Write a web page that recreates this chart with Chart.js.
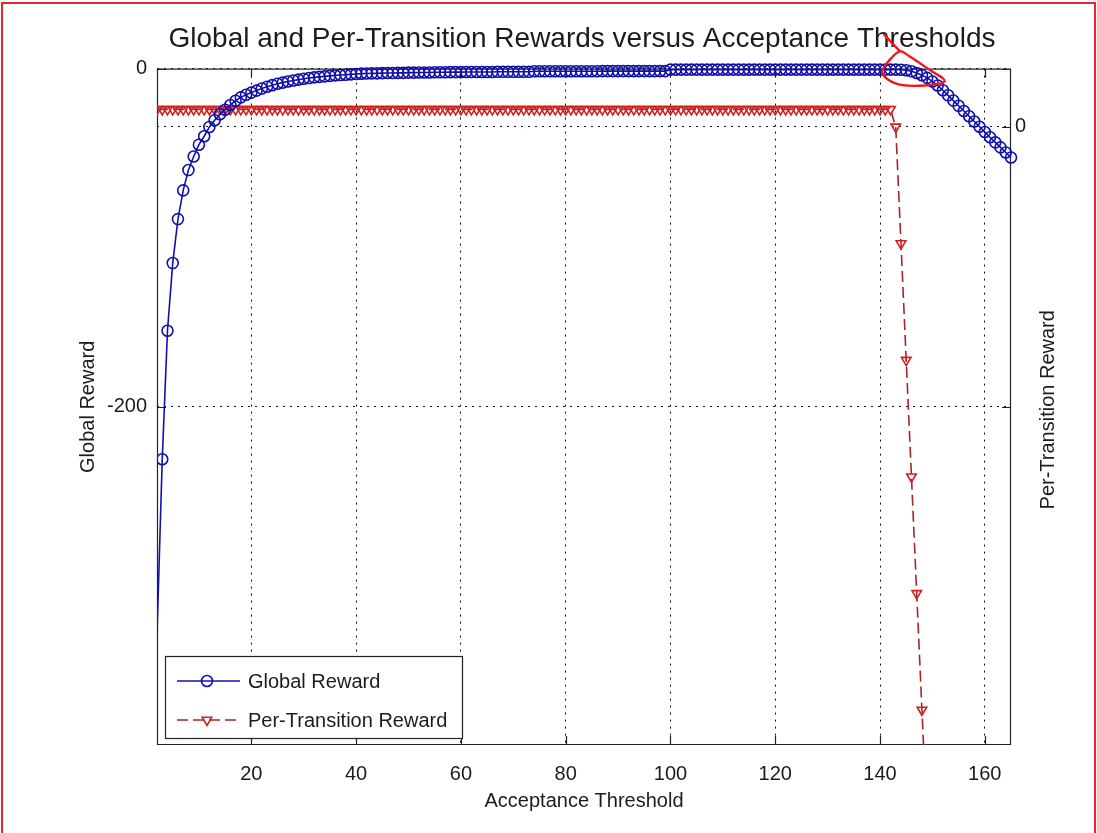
<!DOCTYPE html>
<html>
<head>
<meta charset="utf-8">
<title>Global and Per-Transition Rewards versus Acceptance Thresholds</title>
<script src="https://cdn.jsdelivr.net/npm/chart.js@4.4.0/dist/chart.umd.min.js"></script>
<style>
  html, body { margin: 0; padding: 0; background: #ffffff; }
  #wrap { position: relative; width: 1097px; height: 833px; overflow: hidden; }
  #frame { position: absolute; left: 1px; top: 2px; right: 1px; bottom: -6px; border: 2px solid #e8262b; pointer-events: none; }
</style>
</head>
<body>
<div id="wrap">
  <canvas id="chart" width="1097" height="833"></canvas>
  <div id="frame"></div>
</div>
<script>
// Acceptance thresholds (x axis)
const thresholds = [
  2, 3, 4, 5, 6, 7, 8, 9, 10, 11, 12, 13, 14, 15, 16, 17, 18, 19, 20, 21,
  22, 23, 24, 25, 26, 27, 28, 29, 30, 31, 32, 33, 34, 35, 36, 37, 38, 39, 40, 41,
  42, 43, 44, 45, 46, 47, 48, 49, 50, 51, 52, 53, 54, 55, 56, 57, 58, 59, 60, 61,
  62, 63, 64, 65, 66, 67, 68, 69, 70, 71, 72, 73, 74, 75, 76, 77, 78, 79, 80, 81,
  82, 83, 84, 85, 86, 87, 88, 89, 90, 91, 92, 93, 94, 95, 96, 97, 98, 99, 100, 101,
  102, 103, 104, 105, 106, 107, 108, 109, 110, 111, 112, 113, 114, 115, 116, 117, 118, 119, 120, 121,
  122, 123, 124, 125, 126, 127, 128, 129, 130, 131, 132, 133, 134, 135, 136, 137, 138, 139, 140, 141,
  142, 143, 144, 145, 146, 147, 148, 149, 150, 151, 152, 153, 154, 155, 156, 157, 158, 159, 160, 161,
  162, 163, 164, 165
];

// Global reward per threshold (left axis)
const globalReward = [
  -335, -231, -155, -115, -89, -72, -60, -52, -45, -40, -34.5, -30.5, -27, -24.3, -21.5, -19, -17, -15.5, -14.2, -13,
  -11.8, -10.7, -9.8, -9, -8.3, -7.6, -7, -6.5, -6.0, -5.6, -5.2, -4.9, -4.6, -4.3, -4.0, -3.8, -3.6, -3.4, -3.2, -3.0,
  -2.9, -2.8, -2.8, -2.7, -2.6, -2.6, -2.5, -2.5, -2.4, -2.4, -2.3, -2.3, -2.3, -2.2, -2.2, -2.2, -2.1, -2.1, -2.1, -2.0,
  -2.0, -2.0, -2.0, -2.0, -2.0, -1.9, -1.9, -1.9, -1.9, -1.9, -1.9, -1.9, -1.6, -1.6, -1.6, -1.6, -1.6, -1.6, -1.6, -1.6,
  -1.6, -1.6, -1.6, -1.6, -1.6, -1.5, -1.5, -1.5, -1.5, -1.5, -1.5, -1.5, -1.5, -1.5, -1.5, -1.5, -1.5, -1.5, -0.6, -0.6,
  -0.6, -0.6, -0.6, -0.6, -0.6, -0.6, -0.6, -0.6, -0.6, -0.6, -0.6, -0.6, -0.6, -0.6, -0.6, -0.6, -0.6, -0.6, -0.6, -0.6,
  -0.6, -0.6, -0.6, -0.6, -0.6, -0.6, -0.6, -0.6, -0.6, -0.6, -0.6, -0.6, -0.6, -0.6, -0.6, -0.6, -0.6, -0.6, -0.6, -0.6,
  -0.6, -0.6, -0.7, -1.0, -1.6, -2.6, -3.9, -5.5, -7.6, -10, -12.8, -15.8, -18.9, -22, -25.1, -28.2, -31.3, -34.4, -37.5, -40.6,
  -43.6, -46.6, -49.6, -52.6
];

// Per-transition reward per threshold (right axis)
const perTransitionReward = [
  15, 15, 15, 15, 15, 15, 15, 15, 15, 15, 15, 15, 15, 15, 15, 15, 15, 15, 15, 15,
  15, 15, 15, 15, 15, 15, 15, 15, 15, 15, 15, 15, 15, 15, 15, 15, 15, 15, 15, 15,
  15, 15, 15, 15, 15, 15, 15, 15, 15, 15, 15, 15, 15, 15, 15, 15, 15, 15, 15, 15,
  15, 15, 15, 15, 15, 15, 15, 15, 15, 15, 15, 15, 15, 15, 15, 15, 15, 15, 15, 15,
  15, 15, 15, 15, 15, 15, 15, 15, 15, 15, 15, 15, 15, 15, 15, 15, 15, 15, 15, 15,
  15, 15, 15, 15, 15, 15, 15, 15, 15, 15, 15, 15, 15, 15, 15, 15, 15, 15, 15, 15,
  15, 15, 15, 15, 15, 15, 15, 15, 15, 15, 15, 15, 15, 15, 15, 15, 15, 15, 15, 15,
  15, 0, -100, -200, -300, -400, -500, -600, -700
];

// Tick labels
const xTickValues = [20, 40, 60, 80, 100, 120, 140, 160];
const leftTickValues = [-200, 0];
const rightTickValues = [0];

// Freehand highlight around the knee of the global reward curve
// (threshold, global reward): a short stroke, then a closed loop
const highlightTail = [[140.8, 20.1], [143.8, 10.2]];
const highlightLoop = [
  [143.8, 10.2], [141.9, 5.3], [140.4, -2.5], [143.1, -8.9], [147.5, -10.1],
  [152.3, -7.5], [149.4, -0.6], [145.6, 7.3], [143.8, 10.2]
];

const FONT = "'Liberation Sans', Arial, Helvetica, sans-serif";
const INK = '#1c1c1c';
const BLUE = 'rgb(16,16,172)';
const RED_LINE = 'rgb(170,36,36)';
const RED_MARK = 'rgb(212,30,30)';
const rightAxisTitle = 'Per-Transition Reward';

Chart.defaults.font.family = FONT;
Chart.defaults.font.size = 20;
Chart.defaults.color = INK;

const tickSetter = (values) => (scale) => { scale.ticks = values.map(v => ({ value: v })); };

// Axes box, inward tick marks and the right-hand axis title
const axesFrame = {
  id: 'axesFrame',
  beforeDatasetsDraw(chart) {
    const { ctx, chartArea: a, scales } = chart;
    const len = 9;
    ctx.save();
    ctx.strokeStyle = '#222';
    ctx.lineWidth = 1.2;
    ctx.beginPath();
    ctx.rect(a.left + 0.5, a.top + 0.5, a.right - a.left - 1, a.bottom - a.top - 1);
    for (const t of scales.x.ticks) {
      const px = Math.round(scales.x.getPixelForValue(t.value)) + 0.5;
      ctx.moveTo(px, a.bottom); ctx.lineTo(px, a.bottom - len);
      ctx.moveTo(px, a.top); ctx.lineTo(px, a.top + len);
    }
    for (const t of scales.yL.ticks) {
      const py = Math.round(scales.yL.getPixelForValue(t.value)) + 0.5;
      ctx.moveTo(a.left, py); ctx.lineTo(a.left + len, py);
      ctx.moveTo(a.right, py); ctx.lineTo(a.right - len, py);
    }
    for (const t of scales.yR.ticks) {
      const py = Math.round(scales.yR.getPixelForValue(t.value)) + 0.5;
      ctx.moveTo(a.right, py); ctx.lineTo(a.right - len, py);
    }
    ctx.stroke();
    ctx.restore();
  },
  afterDraw(chart) {
    const { ctx, chartArea: a, scales } = chart;
    ctx.save();
    ctx.fillStyle = INK;
    ctx.font = '20px ' + FONT;
    ctx.textAlign = 'center';
    ctx.textBaseline = 'middle';
    ctx.translate(scales.yR.right - 46, (a.top + a.bottom) / 2 + 3);
    ctx.rotate(-Math.PI / 2);
    ctx.fillText(rightAxisTitle, 0, 0);
    ctx.restore();
  }
};

// Boxed legend in the lower-left corner of the plot
const boxLegend = {
  id: 'boxLegend',
  afterDatasetsDraw(chart) {
    const { ctx, chartArea: a } = chart;
    const left = a.left + 8, top = a.bottom - 89, w = 297, h = 82;
    ctx.save();
    ctx.fillStyle = '#ffffff';
    ctx.fillRect(left, top, w, h);
    ctx.strokeStyle = '#222';
    ctx.lineWidth = 1.2;
    ctx.strokeRect(left + 0.5, top + 0.5, w, h);
    const rows = [top + 25, top + 64];
    chart.data.datasets.forEach((ds, i) => {
      const y = rows[i];
      ctx.save();
      ctx.strokeStyle = ds.borderColor;
      ctx.lineWidth = ds.borderWidth;
      ctx.setLineDash(ds.borderDash || []);
      ctx.beginPath();
      ctx.moveTo(left + 12, y); ctx.lineTo(left + 75, y);
      ctx.stroke();
      ctx.setLineDash([]);
      ctx.strokeStyle = ds.pointBorderColor;
      ctx.fillStyle = 'rgba(0,0,0,0)';
      ctx.lineWidth = ds.pointBorderWidth;
      Chart.helpers.drawPoint(ctx, {
        pointStyle: ds.pointStyle, rotation: ds.pointRotation || 0,
        radius: 5.5, borderWidth: ds.pointBorderWidth
      }, left + 42, y);
      ctx.restore();
      ctx.fillStyle = INK;
      ctx.font = '20px ' + FONT;
      ctx.textAlign = 'left';
      ctx.textBaseline = 'middle';
      ctx.fillText(ds.label, left + 83, y + 1);
    });
    ctx.restore();
  }
};

// Smooth closed curve through points (Catmull-Rom converted to Bezier)
function strokeThrough(ctx, pts) {
  ctx.moveTo(pts[0][0], pts[0][1]);
  for (let i = 0; i < pts.length - 1; i++) {
    const p0 = pts[i === 0 ? pts.length - 2 : i - 1];
    const p1 = pts[i], p2 = pts[i + 1];
    const p3 = pts[i + 2 < pts.length ? i + 2 : 1];
    const c1 = [p1[0] + (p2[0] - p0[0]) / 6, p1[1] + (p2[1] - p0[1]) / 6];
    const c2 = [p2[0] - (p3[0] - p1[0]) / 6, p2[1] - (p3[1] - p1[1]) / 6];
    ctx.bezierCurveTo(c1[0], c1[1], c2[0], c2[1], p2[0], p2[1]);
  }
}

const highlight = {
  id: 'highlight',
  afterDraw(chart) {
    const { ctx, scales } = chart;
    const toPx = ([xv, yv]) => [scales.x.getPixelForValue(xv), scales.yL.getPixelForValue(yv)];
    const tail = highlightTail.map(toPx);
    const loop = highlightLoop.map(toPx);
    ctx.save();
    ctx.strokeStyle = '#ee1a1a';
    ctx.lineWidth = 2.4;
    ctx.lineCap = 'round';
    ctx.lineJoin = 'round';
    ctx.beginPath();
    ctx.moveTo(tail[0][0], tail[0][1]);
    ctx.lineTo(tail[1][0], tail[1][1]);
    strokeThrough(ctx, loop);
    ctx.stroke();
    ctx.restore();
  }
};

const gridStyle = { color: '#111', lineWidth: 1, drawTicks: false };
const gridBorder = { display: false, dash: [2, 5] };

new Chart(document.getElementById('chart'), {
  type: 'line',
  data: {
    labels: thresholds,
    datasets: [
      {
        label: 'Global Reward',
        data: globalReward,
        yAxisID: 'yL',
        borderColor: BLUE,
        borderWidth: 1.6,
        pointStyle: 'circle',
        pointRadius: (c) => (c.dataIndex === 0 ? 0 : 5.5),
        pointBorderWidth: 1.6,
        pointBorderColor: BLUE,
        pointBackgroundColor: 'rgba(0,0,0,0)',
        tension: 0,
        clip: { left: 0, top: 9, right: 9, bottom: 0 }
      },
      {
        label: 'Per-Transition Reward',
        data: perTransitionReward,
        yAxisID: 'yR',
        borderColor: RED_LINE,
        borderWidth: 1.6,
        borderDash: [11, 5],
        pointStyle: 'triangle',
        pointRotation: 180,
        pointRadius: 5.5,
        pointBorderWidth: 1.6,
        pointBorderColor: RED_MARK,
        pointBackgroundColor: 'rgba(0,0,0,0)',
        tension: 0,
        clip: 0
      }
    ]
  },
  options: {
    responsive: false,
    animation: false,
    devicePixelRatio: 1,
    events: [],
    layout: { padding: { left: 70, right: 3, top: 6, bottom: 6 } },
    plugins: {
      legend: { display: false },
      tooltip: { enabled: false },
      title: {
        display: true,
        text: 'Global and Per-Transition Rewards versus Acceptance Thresholds',
        font: { size: 28, weight: 'normal', family: FONT },
        color: INK,
        padding: { top: 16, bottom: 13 }
      }
    },
    scales: {
      x: {
        type: 'linear',
        min: 2,
        max: 165,
        afterBuildTicks: tickSetter(xTickValues),
        afterFit: (s) => { s.height = 82; },
        ticks: { padding: 17, maxRotation: 0, autoSkip: false, color: INK },
        grid: gridStyle,
        border: gridBorder,
        title: { display: true, text: 'Acceptance Threshold', color: INK, padding: { top: 0, bottom: 14 } }
      },
      yL: {
        type: 'linear',
        position: 'left',
        min: -400,
        max: 0,
        afterBuildTicks: tickSetter(leftTickValues),
        afterFit: (s) => { s.width = 87; },
        ticks: { padding: 10, color: INK },
        grid: gridStyle,
        border: gridBorder,
        title: { display: true, text: 'Global Reward', color: INK, padding: { top: 6, bottom: 0 } }
      },
      yR: {
        type: 'linear',
        position: 'right',
        min: -530,
        max: 50,
        afterBuildTicks: tickSetter(rightTickValues),
        afterFit: (s) => { s.width = 83; },
        ticks: { padding: 4, color: INK },
        grid: gridStyle,
        border: gridBorder
      }
    }
  },
  plugins: [axesFrame, boxLegend, highlight]
});
</script>
</body>
</html>
